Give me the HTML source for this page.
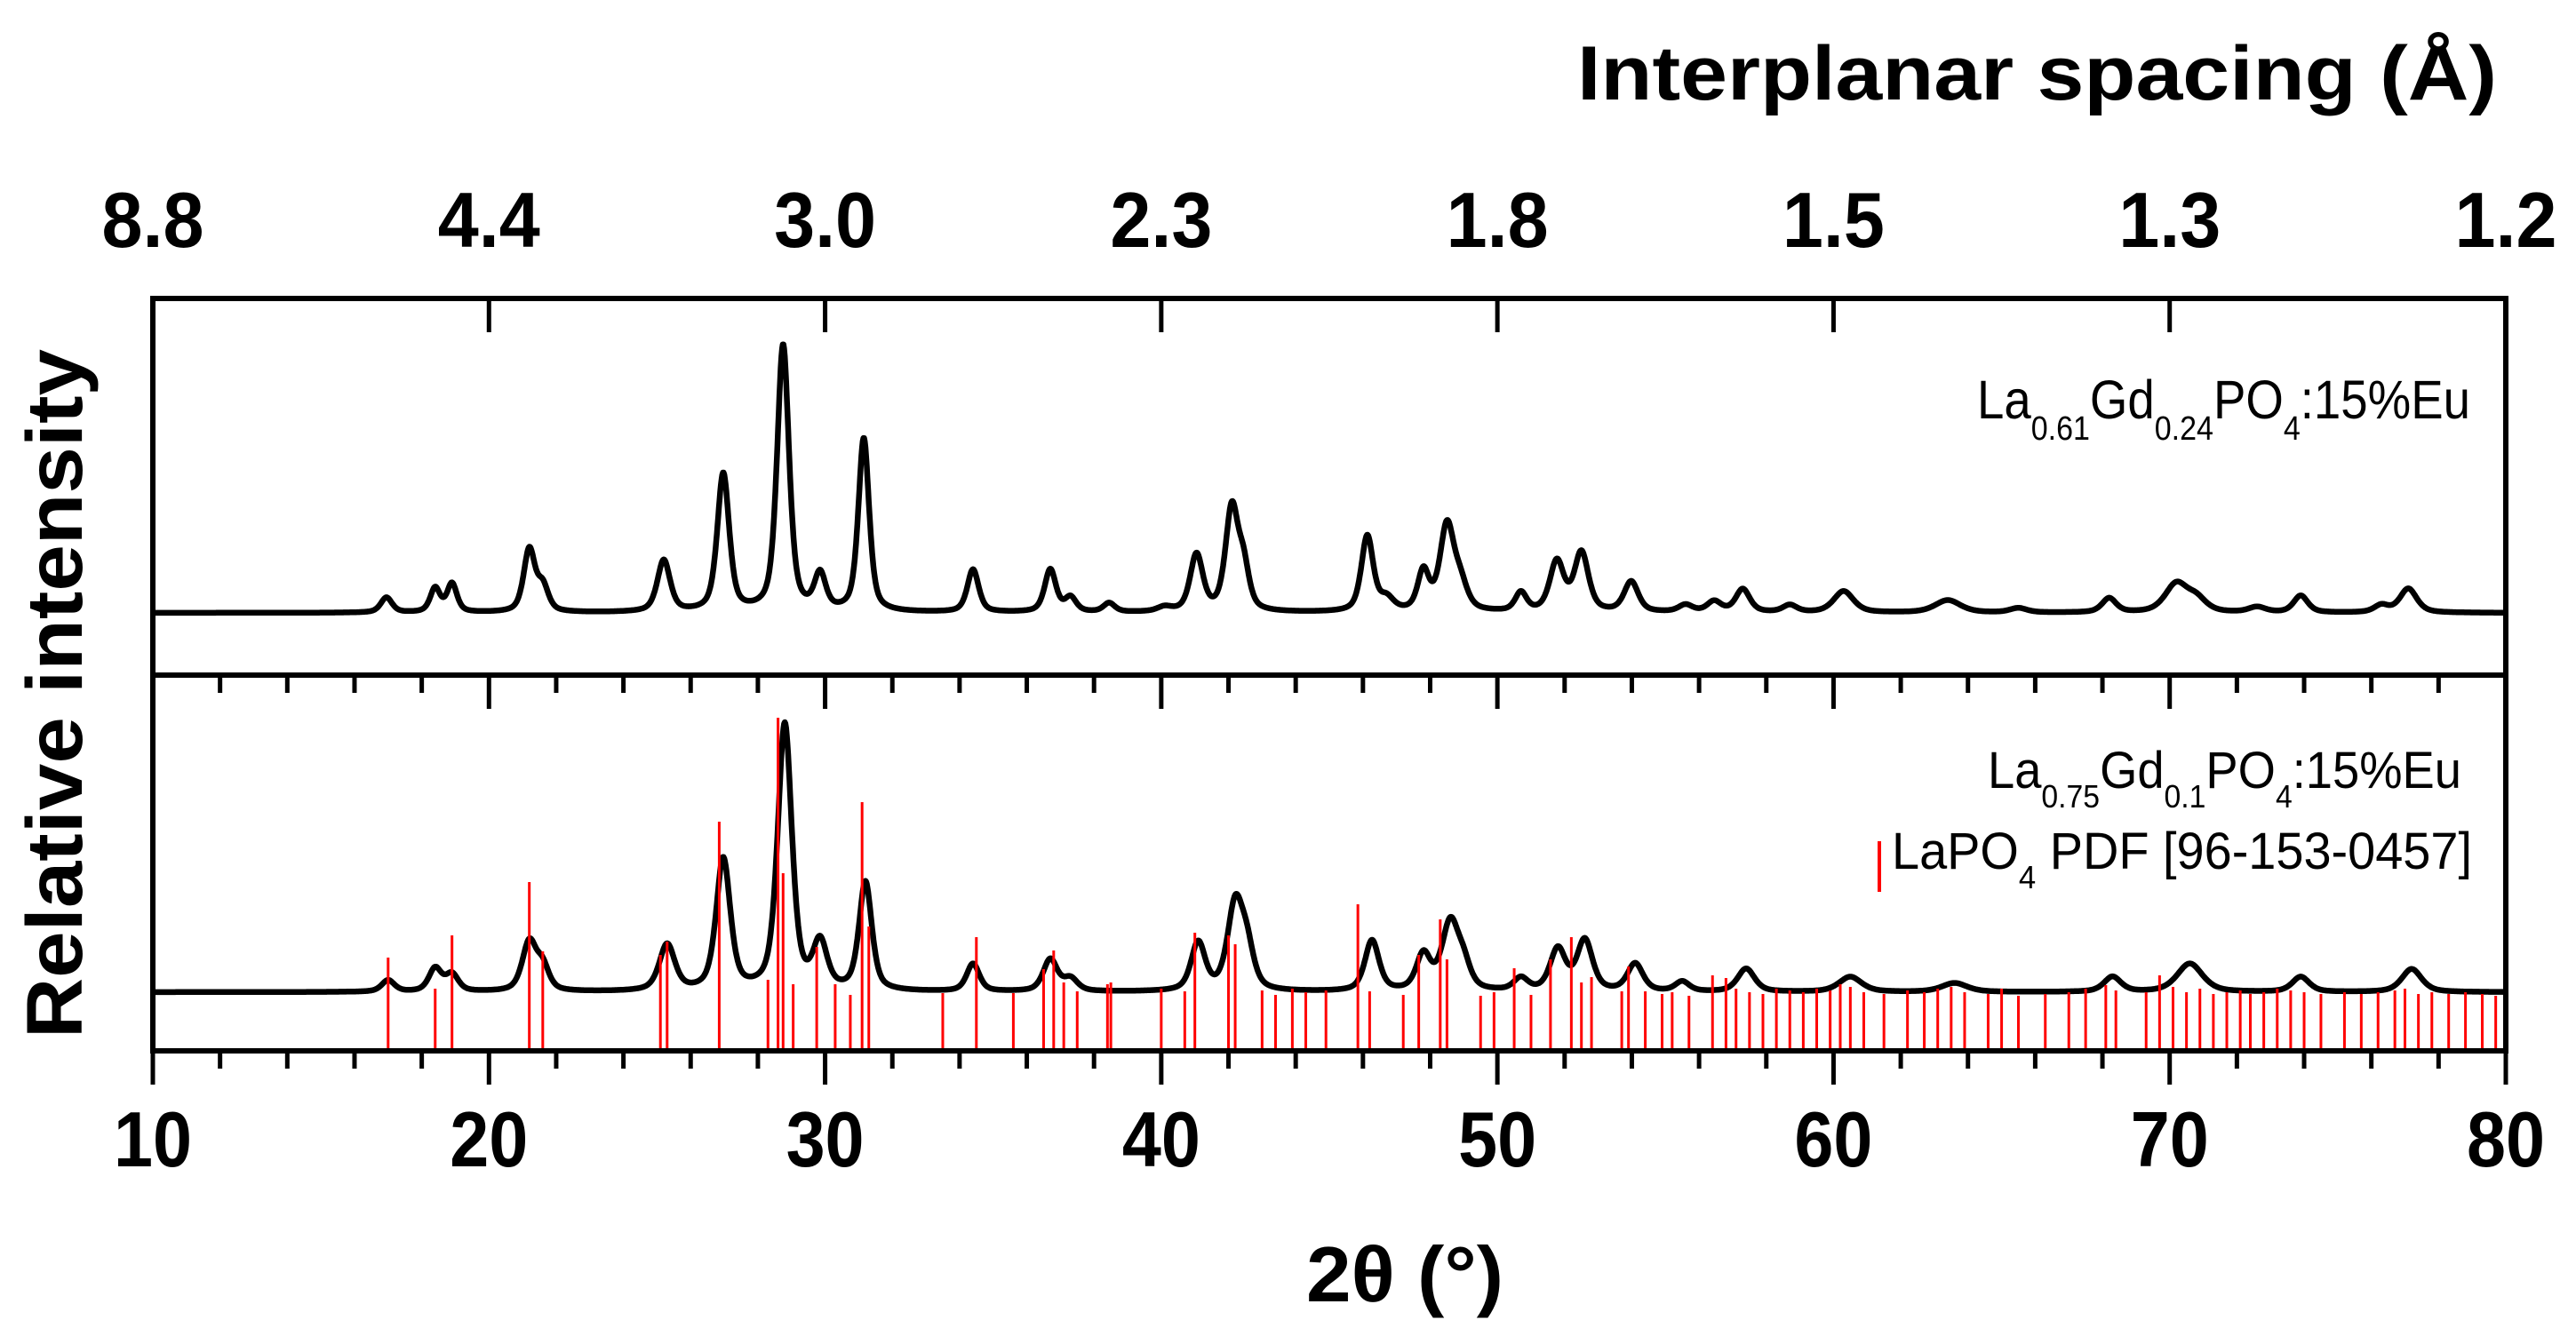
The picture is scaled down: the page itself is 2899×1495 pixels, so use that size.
<!DOCTYPE html>
<html><head><meta charset="utf-8"><style>
html,body{margin:0;padding:0;background:#fff;}
svg{display:block;}
text{font-family:"Liberation Sans",sans-serif;}
</style></head>
<body>
<svg id="chart" width="2899" height="1495" viewBox="0 0 2899 1495" xmlns="http://www.w3.org/2000/svg">
<rect width="2899" height="1495" fill="#fff"/>
<g id="marks"></g>
<g id="axes"></g>
<text x="1775" y="112" font-size="86" font-weight="bold" textLength="1035" lengthAdjust="spacingAndGlyphs">Interplanar spacing (Å)</text>
<text x="1470" y="1465" font-size="88" font-weight="bold" textLength="222" lengthAdjust="spacingAndGlyphs">2θ (°)</text>
<text transform="translate(92,1169) rotate(-90)" x="0" y="0" font-size="89" font-weight="bold" textLength="776" lengthAdjust="spacingAndGlyphs">Relative intensity</text>
<text x="2225" y="471" font-size="61" textLength="555" lengthAdjust="spacingAndGlyphs">La<tspan font-size="38" dy="24">0.61</tspan><tspan dy="-24">Gd</tspan><tspan font-size="38" dy="24">0.24</tspan><tspan dy="-24">PO</tspan><tspan font-size="38" dy="24">4</tspan><tspan dy="-24">:15%Eu</tspan></text>
<text x="2237" y="887" font-size="58" textLength="533" lengthAdjust="spacingAndGlyphs">La<tspan font-size="36" dy="22">0.75</tspan><tspan dy="-22">Gd</tspan><tspan font-size="36" dy="22">0.1</tspan><tspan dy="-22">PO</tspan><tspan font-size="36" dy="22">4</tspan><tspan dy="-22">:15%Eu</tspan></text>
<g>
<rect x="2113" y="947" width="4" height="57" fill="#f00"/>
<text x="2129" y="978" font-size="58" textLength="653" lengthAdjust="spacingAndGlyphs">LaPO<tspan font-size="36" dy="22">4</tspan><tspan dy="-22"> PDF [96-153-0457]</tspan></text>
</g>
</svg>
<script>
// data arrays: [2theta, height(px units), fwhm]
const topPeaks = [[16.95,17,.4],[18.4,27,.35],[18.9,32,.35],[21.2,70,.4],[21.6,28,.4],[25.2,58,.45],[26.97,155,.42],[28.75,300,.42],[29.85,40,.4],[31.15,195,.38],[34.4,48,.4],[36.7,48,.4],[37.3,16,.4],[38.45,10,.4],[40.1,5,.5],[41.05,64,.45],[42.1,115,.45],[42.45,45,.4],[46.13,85,.42],[46.7,14,.5],[47.8,44,.4],[48.5,95,.5],[48.9,28,.5],[50.7,21,.4],[51.77,56,.5],[52.5,66,.5],[53.98,34,.5],[55.6,8,.5],[56.45,12,.5],[57.3,26,.5],[58.7,8,.5],[60.3,24,.7],[63.4,14,.9],[65.5,5,.6],[68.2,16,.5],[70.2,32,.8],[70.8,14,.7],[72.6,6,.6],[73.9,19,.5],[76.3,8,.5],[77.1,27,.6]];
const bottomPeaks = [[17.0,13,.45],[18.4,26,.45],[18.9,19,.45],[21.2,55,.5],[21.6,26,.45],[25.3,52,.55],[26.97,148,.5],[28.8,300,.5],[29.85,52,.5],[31.2,122,.45],[34.4,31,.45],[36.7,36,.5],[37.3,14,.5],[41.1,54,.5],[42.2,95,.55],[42.55,42,.5],[46.27,57,.5],[47.8,40,.5],[48.6,76,.6],[49.0,24,.5],[50.7,14,.5],[51.8,47,.55],[52.6,57,.55],[54.1,31,.55],[55.5,11,.5],[57.4,26,.6],[60.5,17,.8],[63.6,10,.9],[68.3,17,.6],[70.6,32,.9],[73.9,17,.6],[77.2,26,.7]];
const stickPos = [17.0,18.4,18.9,21.2,21.6,25.1,25.3,26.85,28.3,28.6,28.75,29.05,29.75,30.3,30.75,31.1,31.3,33.5,34.5,35.6,36.5,36.8,37.1,37.5,38.4,38.5,40.0,40.7,41.0,42.0,42.2,43.0,43.4,43.9,44.3,44.9,45.85,46.2,47.2,47.66,48.3,48.5,49.5,49.9,50.5,51.0,51.58,52.2,52.5,52.8,53.7,53.9,54.4,54.9,55.2,55.7,56.4,56.8,57.1,57.5,57.9,58.3,58.7,59.1,59.5,59.9,60.2,60.5,60.9,61.5,62.2,62.7,63.1,63.5,63.9,64.6,65.0,65.5,66.3,67.0,67.5,68.1,68.4,69.3,69.7,70.1,70.5,70.9,71.3,71.7,72.1,72.4,72.8,73.2,73.6,74.0,74.5,75.2,75.7,76.2,76.7,77.0,77.4,77.8,78.3,78.8,79.3,79.7];
const stickH = [105,70,130,190,112,108,123,258,80,375,200,75,117,75,63,280,140,65,128,65,92,113,77,67,75,77,70,67,133,130,120,68,63,70,66,68,165,67,63,108,148,103,62,66,93,63,103,128,77,83,67,95,67,64,66,62,85,82,70,66,64,70,68,66,70,68,75,72,66,64,68,66,70,72,66,64,70,62,64,66,70,74,68,66,85,72,66,70,64,66,68,64,66,70,68,66,64,66,64,66,68,70,64,66,64,66,64,62];
const bottomTicks = [10,20,30,40,50,60,70,80];
const topTickLabels = ["8.8","4.4","3.0","2.3","1.8","1.5","1.3","1.2"];

const NS="http://www.w3.org/2000/svg";
const X0=172,X1=2820,Y_TOP=336,Y_SEP=760,Y_BOT=1183;
const xs = d => X0+(d-10)*(X1-X0)/70;
const yTop = v => 690 - v;
const yBot = v => 1117 - v;
const yStick = v => Y_BOT - v;
function prof(peaks,t){let s=0;for(const p of peaks){const g=p[2]/2;const dx=t-p[0];s+=p[1]*(0.55/(1+(dx/g)*(dx/g))+0.45*Math.exp(-0.693*(dx/g)*(dx/g)));}return s;}
function mk(tag,attrs,parent){const e=document.createElementNS(NS,tag);for(const k in attrs)e.setAttribute(k,attrs[k]);parent.appendChild(e);return e;}
const marks=document.getElementById('marks'), axes=document.getElementById('axes');
function curve(peaks,yf,name){let d='';for(let t=10;t<=80.0001;t+=0.02){d+=(d?'L':'M')+xs(t).toFixed(1)+','+yf(prof(peaks,t)).toFixed(1);}
 const p=mk('path',{d:d,fill:'none',stroke:'#000','stroke-width':6.5,'stroke-linejoin':'round'},marks);
 
 }
curve(topPeaks,yTop,'top-pattern-line');
curve(bottomPeaks,yBot,'bottom-pattern-line');
for(let i=0;i<stickPos.length;i++){
 const l=mk('line',{x1:xs(stickPos[i]),x2:xs(stickPos[i]),y1:Y_BOT,y2:yStick(stickH[i]),stroke:'#f00','stroke-width':3},marks);
 
 
}
// frame
const fr=mk('rect',{x:X0,y:Y_TOP,width:X1-X0,height:Y_BOT-Y_TOP,fill:'none',stroke:'#000','stroke-width':6},axes);


const sep=mk('line',{x1:X0,x2:X1,y1:Y_SEP,y2:Y_SEP,stroke:'#000','stroke-width':6},axes);


for(let d=10;d<=80;d+=2){
 const major=(d%10===0);
 const len=major?38:20;
 const t1=mk('line',{x1:xs(d),x2:xs(d),y1:Y_SEP,y2:Y_SEP+len,stroke:'#000','stroke-width':5},axes);
 
 
 const t2=mk('line',{x1:xs(d),x2:xs(d),y1:Y_BOT,y2:Y_BOT+len,stroke:'#000','stroke-width':5},axes);
 
 
}
bottomTicks.forEach((d,i)=>{
 const t=mk('line',{x1:xs(d),x2:xs(d),y1:Y_TOP,y2:Y_TOP+38,stroke:'#000','stroke-width':5},axes);
 
 
 const lb=mk('text',{x:xs(d),y:1313,'font-size':88,'font-weight':'bold','text-anchor':'middle',textLength:String(d).length*44,lengthAdjust:'spacingAndGlyphs'},axes);
 lb.textContent=String(d);
 
 
 const tl=mk('text',{x:xs(d),y:278,'font-size':88,'font-weight':'bold','text-anchor':'middle',textLength:115,lengthAdjust:'spacingAndGlyphs'},axes);
 tl.textContent=topTickLabels[i];
 
 
});
</script>
</body></html>
